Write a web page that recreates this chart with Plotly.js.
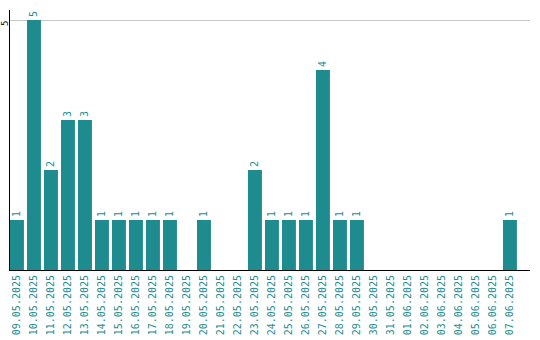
<!DOCTYPE html>
<html><head><meta charset="utf-8">
<script src="https://cdn.plot.ly/plotly-3.0.1.min.js"></script>
<style>html,body{margin:0;padding:0;background:#fff}#c{width:540px;height:340px}</style>
</head><body><div id="c"></div>
<script>
const dates = ["09.05.2025","10.05.2025","11.05.2025","12.05.2025","13.05.2025","14.05.2025","15.05.2025","16.05.2025","17.05.2025","18.05.2025","19.05.2025","20.05.2025","21.05.2025","22.05.2025","23.05.2025","24.05.2025","25.05.2025","26.05.2025","27.05.2025","28.05.2025","29.05.2025","30.05.2025","31.05.2025","01.06.2025","02.06.2025","03.06.2025","04.06.2025","05.06.2025","06.06.2025","07.06.2025"];
const counts = [1,5,2,3,3,1,1,1,1,1,0,1,0,0,2,1,1,1,4,1,1,0,0,0,0,0,0,0,0,1];
const yTicks = [5];
const labels = counts.map(v => v > 0 ? String(v) : "");
const teal = "#1e8b8f";
Plotly.newPlot("c", [{
  type: "bar", x: dates, y: counts, text: labels,
  textposition: "outside", textangle: -90, cliponaxis: false,
  textfont: {family: "DejaVu Sans Mono", size: 10, color: teal},
  marker: {color: teal}, hoverinfo: "none"
}], {
  width: 540, height: 340,
  margin: {l: 10, r: 10, t: 10, b: 70},
  paper_bgcolor: "#fff", plot_bgcolor: "#fff",
  bargap: 0.18, showlegend: false,
  xaxis: {type: "category", range: [-0.41, 30.18], showline: true, linecolor: "#000", linewidth: 1,
    tickangle: -90, ticks: "", tickfont: {family: "DejaVu Sans Mono", size: 10, color: teal},
    showgrid: false, zeroline: false, fixedrange: true},
  yaxis: {range: [0, 5.2], tickvals: yTicks, showticklabels: false, ticks: "",
    showline: true, linecolor: "#000", linewidth: 1, showgrid: true, gridcolor: "#c8c8c8",
    zeroline: false, fixedrange: true},
  annotations: yTicks.map(v => ({
    xref: "paper", yref: "y", x: 0, y: v, xanchor: "center", yanchor: "middle",
    xshift: -5, yshift: -4, textangle: -90, showarrow: false, text: String(v),
    font: {family: "DejaVu Sans Mono", size: 9, color: "#000"}
  }))
}, {staticPlot: true});
</script></body></html>
